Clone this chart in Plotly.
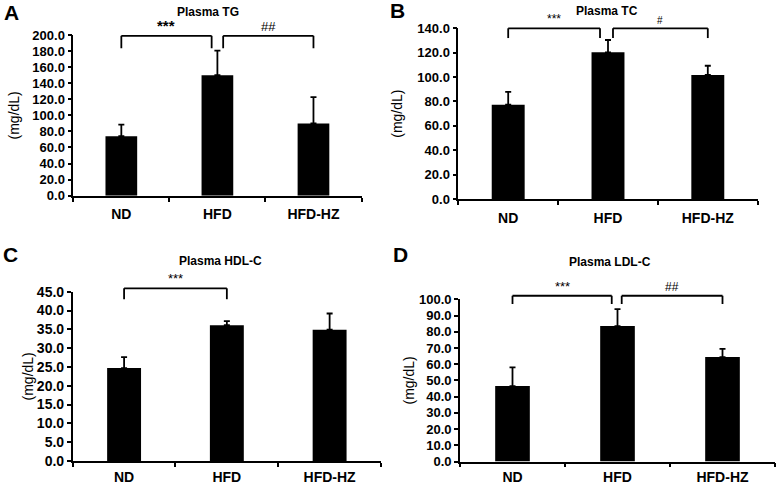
import plotly.graph_objects as go

categories = ["ND", "HFD", "HFD-HZ"]

tg_mean = [74.0, 150.0, 90.0]
tg_err = [14.4, 30.6, 32.6]

tc_mean = [77.3, 120.3, 101.7]
tc_err = [10.5, 10.1, 7.6]

hdl_mean = [24.7, 36.1, 34.9]
hdl_err = [2.9, 1.1, 4.3]

ldl_mean = [46.5, 83.5, 64.4]
ldl_err = [11.5, 10.5, 5.0]

panel_titles = ["Plasma TG", "Plasma TC", "Plasma HDL-C", "Plasma LDL-C"]
panel_letters = ["A", "B", "C", "D"]
y_title = "(mg/dL)"

W, H = 778, 484
FONT = "Arial, Liberation Sans, sans-serif"


def X(px):
    return px / W


def Y(py):
    return 1 - py / H


panels = [
    dict(mean=tg_mean, err=tg_err, xd=[X(73.3), X(361.5)], yd=[Y(195.7), Y(35.0)],
         rng=[0, 200], dtick=20, tfs=13, standoff=9, lstand=5,
         brackets=[(0, 0.94, 183.5, 199.0, "<b>***</b>", 15), (1.06, 2, 183.5, 199.0, "##", 13)],
         title=(208, 12), letter=(11, 13)),
    dict(mean=tc_mean, err=tc_err, xd=[X(458.3), X(757.7)], yd=[Y(199.0), Y(28.3)],
         rng=[0, 140], dtick=20, tfs=13, standoff=11, lstand=5,
         brackets=[(0, 0.92, 132.0, 140.0, "***", 12), (1.05, 2, 132.0, 140.0, "#", 10)],
         title=(607, 11), letter=(398, 11)),
    dict(mean=hdl_mean, err=hdl_err, xd=[X(72.7), X(381.0)], yd=[Y(461.0), Y(291.7)],
         rng=[0, 45], dtick=5, tfs=14, standoff=0, lstand=2,
         brackets=[(0, 1, 43.0, 45.9, "***", 13)],
         title=(220, 261), letter=(10, 254)),
    dict(mean=ldl_mean, err=ldl_err, xd=[X(460.0), X(775.0)], yd=[Y(461.5), Y(299.3)],
         rng=[0, 100], dtick=10, tfs=13, standoff=1, lstand=2,
         brackets=[(0, 0.945, 97.1, 102.2, "***", 13), (1.04, 2, 97.1, 102.2, "##", 12)],
         title=(610, 262), letter=(400, 254)),
]

fig = go.Figure()
annotations = []
shapes = []
xpos = list(range(len(categories)))
xrange_ = [-0.5, len(categories) - 0.5]

for i, p in enumerate(panels):
    n = "" if i == 0 else str(i + 1)
    xa, ya = "x" + n, "y" + n
    fig.add_trace(go.Bar(
        x=xpos, y=p["mean"], width=0.33, xaxis=xa, yaxis=ya,
        marker=dict(color="black", line=dict(width=0)),
        error_y=dict(type="data", symmetric=False, array=p["err"],
                     arrayminus=[0] * len(p["err"]), color="black",
                     thickness=1.8, width=3),
        showlegend=False, hoverinfo="skip",
    ))

    def fx(v):
        return (v - xrange_[0]) / (xrange_[1] - xrange_[0])

    def fy(v, r=p["rng"]):
        return (v - r[0]) / (r[1] - r[0])

    for (x0, x1, ylo, yhi, txt, fs) in p["brackets"]:
        segs = [(x0, ylo, x0, yhi), (x0, yhi, x1, yhi), (x1, yhi, x1, ylo)]
        for (a0, b0, a1, b1) in segs:
            shapes.append(dict(
                type="line", xref=xa + " domain", yref=ya + " domain",
                x0=fx(a0), y0=fy(b0), x1=fx(a1), y1=fy(b1),
                line=dict(color="black", width=1.8),
            ))
        annotations.append(dict(
            x=fx((x0 + x1) / 2), y=fy(yhi), xref=xa + " domain", yref=ya + " domain",
            text=txt, showarrow=False, yanchor="bottom", xanchor="center",
            font=dict(family=FONT, size=fs, color="black"),
        ))
    annotations.append(dict(
        x=X(p["title"][0]), y=Y(p["title"][1]), xref="paper", yref="paper",
        text="<b>%s</b>" % panel_titles[i], showarrow=False,
        xanchor="center", yanchor="middle",
        font=dict(family=FONT, size=12, color="black"),
    ))
    annotations.append(dict(
        x=X(p["letter"][0]), y=Y(p["letter"][1]), xref="paper", yref="paper",
        text="<b>%s</b>" % panel_letters[i], showarrow=False,
        xanchor="center", yanchor="middle",
        font=dict(family=FONT, size=21, color="black"),
    ))

    xkey = "xaxis" + n
    ykey = "yaxis" + n
    fig.update_layout(**{
        xkey: dict(
            domain=p["xd"], anchor=ya, range=xrange_,
            tickmode="array", tickvals=xpos, ticktext=categories,
            ticks="", showgrid=False, zeroline=False,
            showline=True, linecolor="black", linewidth=1.6,
            tickfont=dict(family=FONT, size=14, color="black", weight="bold"),
            ticklabelstandoff=p["lstand"], automargin=False,
            minor=dict(tickmode="array",
                       tickvals=[k - 0.5 for k in range(len(categories) + 1)],
                       ticks="outside", ticklen=4, tickwidth=1.6, tickcolor="black",
                       showgrid=False),
            fixedrange=True,
        ),
        ykey: dict(
            domain=p["yd"], anchor=xa, range=p["rng"], dtick=p["dtick"],
            tickformat=".1f", ticks="outside", ticklen=4, tickwidth=1.6,
            tickcolor="black", showgrid=False, zeroline=False,
            showline=True, linecolor="black", linewidth=1.6,
            tickfont=dict(family=FONT, size=p["tfs"], color="black", weight="bold"),
            title=dict(text=y_title, standoff=p["standoff"],
                       font=dict(family=FONT, size=14, color="black")),
            automargin=False, fixedrange=True,
        ),
    })

fig.update_layout(
    width=W, height=H, autosize=False,
    margin=dict(l=0, r=0, t=0, b=0, pad=0, autoexpand=False),
    paper_bgcolor="white", plot_bgcolor="white",
    annotations=annotations, shapes=shapes, showlegend=False,
    font=dict(family=FONT, color="black"),
)

fig.write_html(
    "out.html",
    config={"displayModeBar": False, "responsive": False},
    post_script="document.body.style.margin='0px';document.body.style.overflow='hidden';",
)
